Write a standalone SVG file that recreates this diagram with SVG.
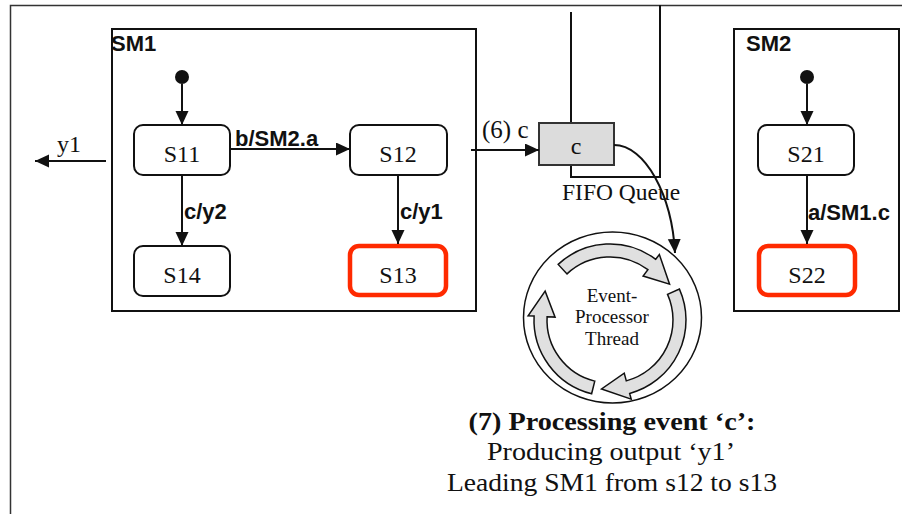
<svg xmlns="http://www.w3.org/2000/svg" width="902" height="514" viewBox="0 0 902 514">
<style>
.box{fill:#fff;stroke:#111;stroke-width:2}
.st{fill:#fff;stroke:#111;stroke-width:2}
.act{fill:#fff;stroke:#ff2a00;stroke-width:4.5}
.ser{font-family:"Liberation Serif","Times New Roman",serif;fill:#111}
.sb{font-family:"Liberation Sans",Arial,sans-serif;font-weight:bold;fill:#111}
.lbl{font-size:24px;text-anchor:middle}
.edge{fill:none;stroke:#111;stroke-width:2}
.rarr{fill:#e0e0e0;stroke:#111;stroke-width:1.5;stroke-linejoin:miter}
</style>
<defs>
<marker id="ah" markerUnits="userSpaceOnUse" markerWidth="15" markerHeight="14" refX="14" refY="6.5" orient="auto">
<path d="M0,0 L14,6.5 L0,13 Z" fill="#111"/>
</marker>
</defs>
<rect width="902" height="514" fill="#fff"/>
<g id="frame">
<path d="M10.5,514 V5.5 H902" fill="none" stroke="#333" stroke-width="1.5"/>
</g>
<g id="SM1">
<rect class="box" x="112" y="29" width="364" height="282"/>
<text class="sb" x="111" y="51" font-size="22">SM1</text>
<circle cx="182" cy="77" r="7" fill="#111"/>
</g>
<g id="SM2">
<rect class="box" x="734" y="29" width="165" height="282"/>
<text class="sb" x="746" y="51" font-size="22">SM2</text>
<circle cx="807" cy="77" r="7" fill="#111"/>
</g>
<g id="S11"><rect class="st" x="134" y="125" width="96" height="50" rx="9"/><text class="ser lbl" x="182" y="162">S11</text></g>
<g id="S12"><rect class="st" x="350" y="125" width="97" height="50" rx="9"/><text class="ser lbl" x="398" y="162">S12</text></g>
<g id="S14"><rect class="st" x="134" y="246" width="96" height="50" rx="9"/><text class="ser lbl" x="182" y="283">S14</text></g>
<g id="S13"><rect class="act" x="350" y="246" width="96" height="49" rx="9"/><text class="ser lbl" x="398" y="283">S13</text></g>
<g id="S21"><rect class="st" x="758" y="125" width="96" height="50" rx="9"/><text class="ser lbl" x="806" y="162">S21</text></g>
<g id="S22"><rect class="act" x="759" y="246" width="96" height="49" rx="9"/><text class="ser lbl" x="807" y="283">S22</text></g>
<g id="queue">
<path d="M571,12 V123 M571,165 V177 H660 V5" fill="none" stroke="#111" stroke-width="2"/>
<rect x="539" y="123" width="75" height="42" fill="#dcdcdc" stroke="#333" stroke-width="2"/>
<text class="ser" x="576" y="154" font-size="24" text-anchor="middle">c</text>
<text class="ser" x="562" y="200" font-size="23.5">FIFO Queue</text>
</g>
<g id="thread">
<ellipse cx="612.5" cy="317.5" rx="89" ry="85.5" fill="none" stroke="#111" stroke-width="1.5"/>
<path class="rarr" d="M558.17,264.41 A76,76 0 0 1 655.74,259.31 L659.35,254.51 L669.57,284.21 L643.10,276.08 L647.91,269.69 A63,63 0 0 0 567.03,273.92 Z"/>
<path class="rarr" d="M679.43,289.09 A76,76 0 0 1 629.67,393.41 L631.22,399.20 L601.53,388.98 L624.23,373.12 L626.30,380.85 A63,63 0 0 0 667.55,294.38 Z"/>
<path class="rarr" d="M591.61,393.74 A76,76 0 0 1 534.10,316.02 L528.11,315.71 L545.14,291.12 L555.08,317.12 L547.09,316.70 A63,63 0 0 0 594.76,381.13 Z"/>
<text class="ser" font-size="19" text-anchor="middle"><tspan x="612" y="302">Event-</tspan><tspan x="612" y="323">Processor</tspan><tspan x="612" y="345">Thread</tspan></text>
</g>
<g id="note">
<text class="ser" x="612" y="430" font-size="26" font-weight="bold" text-anchor="middle" textLength="287" lengthAdjust="spacingAndGlyphs">(7) Processing event ‘c’:</text>
<text class="ser" x="611" y="460" font-size="26" text-anchor="middle" textLength="248" lengthAdjust="spacingAndGlyphs">Producing output ‘y1’</text>
<text class="ser" x="612" y="491" font-size="26" text-anchor="middle" textLength="330" lengthAdjust="spacingAndGlyphs">Leading SM1 from s12 to s13</text>
</g>
<g id="connectors">
<path class="edge" d="M182,84 V125" marker-end="url(#ah)"/>
<path class="edge" d="M230,149 H350" marker-end="url(#ah)"/>
<path class="edge" d="M182,175 V246" marker-end="url(#ah)"/>
<path class="edge" d="M398,175 V244" marker-end="url(#ah)"/>
<path class="edge" d="M106,161 H35" marker-end="url(#ah)"/>
<path class="edge" d="M471,150 H539" marker-end="url(#ah)"/>
<path class="edge" d="M614,145 C645,145 672,195 675,253" marker-end="url(#ah)"/>
<path class="edge" d="M807,84 V125" marker-end="url(#ah)"/>
<path class="edge" d="M807,175 V244" marker-end="url(#ah)"/>
<text class="sb" x="235" y="146" font-size="22">b/SM2.a</text>
<text class="sb" x="184" y="219" font-size="22">c/y2</text>
<text class="sb" x="400" y="219" font-size="22">c/y1</text>
<text class="sb" x="808" y="220" font-size="22">a/SM1.c</text>
<text class="ser" x="57" y="152" font-size="24">y1</text>
<text class="ser" x="482" y="138" font-size="25">(6) c</text>
</g>
</svg>
